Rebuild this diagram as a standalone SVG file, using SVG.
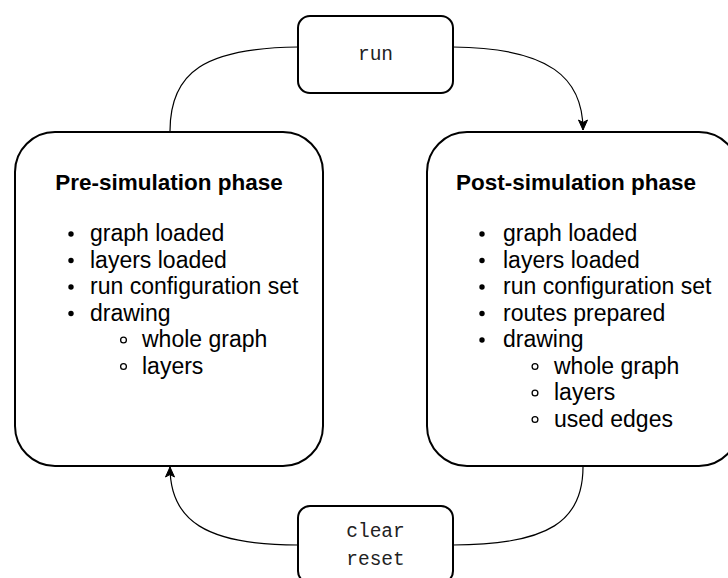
<svg xmlns="http://www.w3.org/2000/svg" width="728" height="578" viewBox="0 0 728 578">
<defs>
<style>
.box{fill:#fff;stroke:#000;stroke-width:2}
.edge{fill:none;stroke:#000;stroke-width:1.2}
.title{font-family:"Liberation Sans",Arial,sans-serif;font-weight:bold;font-size:22.5px;fill:#000}
.item{font-family:"Liberation Sans",Arial,sans-serif;font-size:23px;fill:#000}
.mono{font-family:"Liberation Mono","Courier New",monospace;font-size:19.5px;fill:#222}
.dot{fill:#000}
.ring{fill:none;stroke:#000;stroke-width:1.3}
</style>
<marker id="arrow" markerUnits="userSpaceOnUse" markerWidth="12" markerHeight="12" viewBox="0 0 12 12" refX="11" refY="6" orient="auto">
<path d="M1,1.5 L11,6 L1,10.5 L3.5,6 Z" fill="#000" stroke="#000" stroke-width="1"/>
</marker>
</defs>
<rect width="728" height="578" fill="#fff"/>
<g id="connectors">
<path class="edge" d="M298,47 C205,48 170,72 170,131"/>
<path class="edge" d="M453,47 C550,48 583,78 583,130" marker-end="url(#arrow)"/>
<path class="edge" d="M583,467 C583,520 550,545 453,545"/>
<path class="edge" d="M298,545 C205,545 170,520 170,467" marker-end="url(#arrow)"/>
</g>
<g id="pre">
<rect class="box" x="15" y="132" width="308" height="334" rx="40" ry="40"/>
<text class="title" x="169" y="190" text-anchor="middle">Pre-simulation phase</text>
<circle class="dot" cx="71" cy="234" r="2.7"/>
<text class="item" x="90" y="241">graph loaded</text>
<circle class="dot" cx="71" cy="260.5" r="2.7"/>
<text class="item" x="90" y="267.5">layers loaded</text>
<circle class="dot" cx="71" cy="287" r="2.7"/>
<text class="item" x="90" y="294">run configuration set</text>
<circle class="dot" cx="71" cy="313.5" r="2.7"/>
<text class="item" x="90" y="320.5">drawing</text>
<circle class="ring" cx="123.5" cy="340" r="2.9"/>
<text class="item" x="142" y="347">whole graph</text>
<circle class="ring" cx="123.5" cy="366.5" r="2.9"/>
<text class="item" x="142" y="373.5">layers</text>
</g>
<g id="post">
<rect class="box" x="427" y="132" width="312" height="334" rx="40" ry="40"/>
<text class="title" x="576" y="190" text-anchor="middle">Post-simulation phase</text>
<circle class="dot" cx="482" cy="234" r="2.7"/>
<text class="item" x="503" y="241">graph loaded</text>
<circle class="dot" cx="482" cy="260.5" r="2.7"/>
<text class="item" x="503" y="267.5">layers loaded</text>
<circle class="dot" cx="482" cy="287" r="2.7"/>
<text class="item" x="503" y="294">run configuration set</text>
<circle class="dot" cx="482" cy="313.5" r="2.7"/>
<text class="item" x="503" y="320.5">routes prepared</text>
<circle class="dot" cx="482" cy="340" r="2.7"/>
<text class="item" x="503" y="347">drawing</text>
<circle class="ring" cx="535" cy="366.5" r="2.9"/>
<text class="item" x="554" y="373.5">whole graph</text>
<circle class="ring" cx="535" cy="393" r="2.9"/>
<text class="item" x="554" y="400">layers</text>
<circle class="ring" cx="535" cy="419.5" r="2.9"/>
<text class="item" x="554" y="426.5">used edges</text>
</g>
<g id="run">
<rect class="box" x="298" y="16" width="155" height="77" rx="12" ry="12"/>
<text class="mono" x="375.5" y="60" text-anchor="middle">run</text>
</g>
<g id="clear-reset">
<rect class="box" x="298" y="506" width="155" height="77" rx="12" ry="12"/>
<text class="mono" x="375.5" y="537" text-anchor="middle">clear</text>
<text class="mono" x="375.5" y="564.5" text-anchor="middle">reset</text>
</g>
</svg>
